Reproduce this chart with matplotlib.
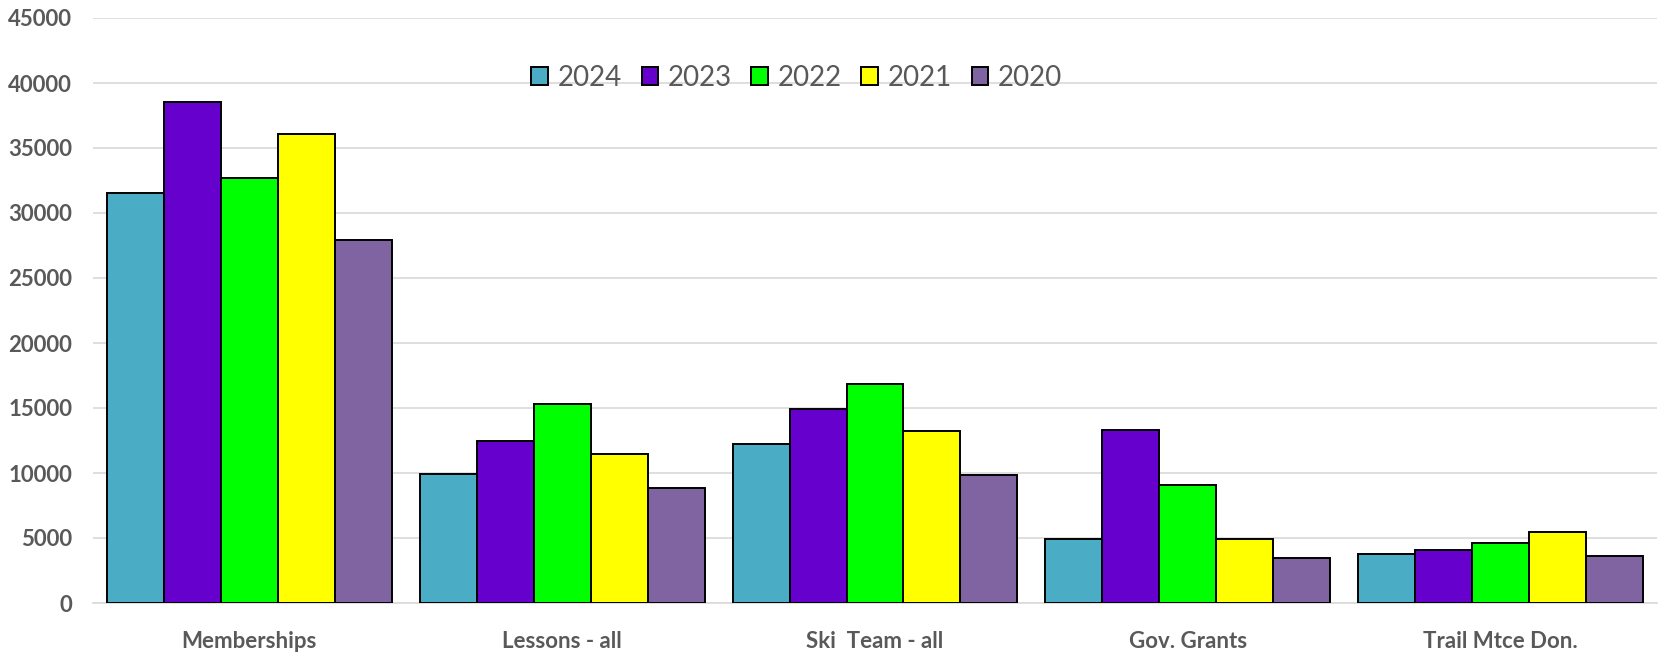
import numpy as np
import matplotlib.pyplot as plt

# data
categories = ["Memberships", "Lessons - all", "Ski  Team - all", "Gov. Grants", "Trail Mtce Don."]
years = ["2024", "2023", "2022", "2021", "2020"]
v2024 = [31500, 9900, 12200, 4950, 3750]
v2023 = [38500, 12500, 14950, 13300, 4050]
v2022 = [32700, 15300, 16850, 9050, 4650]
v2021 = [36100, 11450, 13200, 4950, 5500]
v2020 = [27900, 8850, 9850, 3500, 3650]
colors = ["#4BACC6", "#6600CC", "#00FF00", "#FFFF00", "#8064A2"]

series = [v2024, v2023, v2022, v2021, v2020]

plt.rcParams['font.family'] = ['Lato', 'DejaVu Sans']

fig = plt.figure(figsize=(16.66, 6.56), dpi=100)
ax = fig.add_axes([93/1666, 53/656, 1564/1666, 585/656])

x = np.arange(len(categories))
w = 0.182
for i, vals in enumerate(series):
    ax.bar(x + (i - 2) * w, vals, width=w, color=colors[i], edgecolor="black",
           linewidth=1.4, label=years[i], zorder=3)

ax.set_xlim(-0.5, 4.5)
ax.set_ylim(0, 45000)
ax.set_yticks(np.arange(0, 45001, 5000))
ax.yaxis.grid(True, color="#D9D9D9", linewidth=1.2, zorder=0)
ax.set_axisbelow(True)
for s in ["top", "right", "left"]:
    ax.spines[s].set_visible(False)
ax.spines["bottom"].set_color("#D9D9D9")
ax.spines["bottom"].set_linewidth(1.2)
ax.tick_params(axis="both", length=0, colors="#595959", labelsize=16)
ax.tick_params(axis="y", pad=15)
ax.tick_params(axis="x", pad=20)
ax.set_xticks(x)
ax.set_xticklabels(categories, fontweight="bold", color="#595959")
for lbl in ax.get_yticklabels():
    lbl.set_fontweight("bold")

leg = ax.legend(loc="center", bbox_to_anchor=(0.45, 0.898), ncol=5, frameon=False,
                fontsize=20, handlelength=0.6, handleheight=0.6, handletextpad=0.35,
                columnspacing=0.7, labelcolor="#595959")

plt.savefig("out.png", dpi=100)
